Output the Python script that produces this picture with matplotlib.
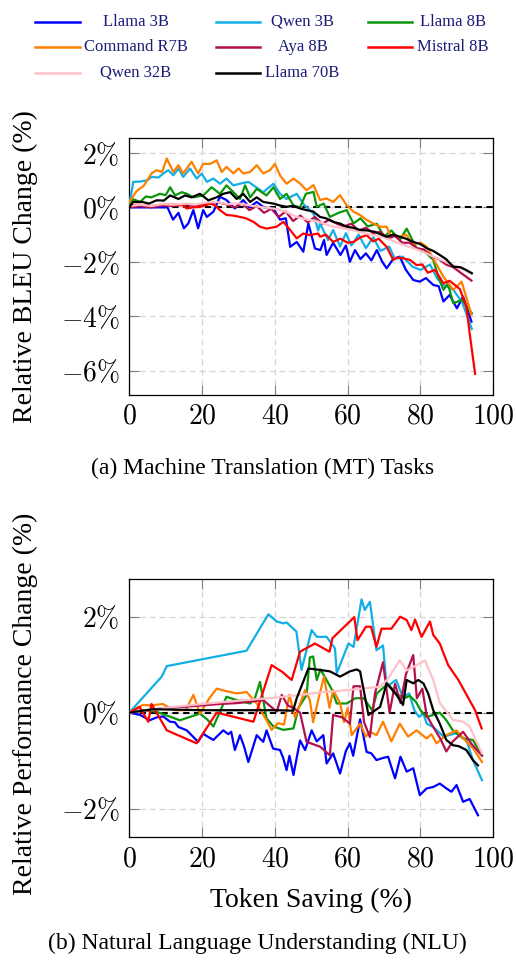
import numpy as np
import matplotlib
matplotlib.use("Agg")
import matplotlib.pyplot as plt
from matplotlib.lines import Line2D
from matplotlib.ticker import FuncFormatter

plt.rcParams['font.family'] = 'serif'
plt.rcParams['font.serif'] = ['Liberation Serif', 'DejaVu Serif']
plt.rcParams['mathtext.fontset'] = 'cm'

# series names and colours (legend order)
models = ['Llama 3B', 'Qwen 3B', 'Llama 8B', 'Command R7B', 'Aya 8B', 'Mistral 8B', 'Qwen 32B', 'Llama 70B']
colors = ['#0000ff', '#14aee6', '#0a960a', '#ff8000', '#b4104e', '#ff0000', '#ffc0c8', '#000000']

# (a) MT: token saving (%) vs relative BLEU change (%)
mt_llama3b = [(0, 0), (4, 0), (8, 0), (10.5, 0), (12, -0.45), (13.5, -0.2), (15, -0.77), (16.2, -0.59), (17.6, -0.1),
              (18.9, -0.77), (20.3, -0.1), (21.3, -0.35), (23.1, -0.16), (24.9, 0.39), (26.7, 0.27), (29, -0.04),
              (31.3, 0.27), (33, 0.0), (35, 0.2), (37, 0.0), (39.6, -0.04), (41.4, -0.45), (43, -0.4), (44.2, -1.45),
              (46, -1.27), (47.8, -1.63), (49.2, -0.59), (51, -1.51), (52.5, -1.57), (53.5, -1.2), (54.2, -1.75),
              (56, -1.3), (58, -1.75), (59.5, -1.4), (60.6, -2.0), (62, -1.57), (63.5, -1.9), (65, -1.69),
              (66.5, -1.95), (68, -1.57), (69.5, -2.0), (70.7, -2.24), (72.5, -1.9), (74.3, -1.81), (76, -2.3),
              (78, -2.67), (79.8, -2.73), (81.5, -2.6), (83.5, -2.85), (85, -2.9), (86.3, -3.46), (88, -3.22),
              (90, -3.71), (91.7, -3.28), (94, -4.2)]
mt_qwen3b = [(0, 0.1), (1.1, 0.94), (3, 0.95), (5, 1.0), (6.1, 1.12), (8, 1.1), (9.3, 1.24), (10.7, 1.37), (12.1, 1.18),
             (13.5, 1.43), (14.8, 1.12), (16.7, 1.43), (18.5, 1.06), (19.9, 1.24), (21.3, 0.94), (23.1, 1.06),
             (24.9, 0.87), (26.7, 1.06), (28.6, 0.81), (30.4, 0.87), (32.7, 0.94), (34.1, 0.81), (36.8, 0.56),
             (39.6, 0.87), (41.4, 0.5), (43.2, 0.31), (46, 0.5), (47.8, 0.13), (50.6, -0.23), (51.9, -0.85),
             (52.4, -0.59), (54.6, -1.2), (56, -0.83), (57.9, -1.44), (59.5, -0.95), (61, -1.4), (63, -1.0),
             (65, -1.5), (67, -1.1), (69, -1.6), (71.4, -1.44), (73, -1.9), (75.1, -1.81), (77.8, -2.18), (80, -2.3),
             (82.6, -2.1), (84.5, -2.6), (86.3, -2.85), (89, -3.03), (91.5, -3.5), (94.1, -4.47)]
mt_llama8b = [(0, 0.1), (1.1, 0.3), (3, 0.2), (4.5, 0.4), (6.1, 0.37), (8.4, 0.5), (10, 0.45), (11.2, 0.74), (12.6, 0.44),
              (14.4, 0.56), (15.8, 0.5), (17.6, 0.37), (20.3, 0.44), (22.6, 0.74), (24.9, 0.5), (26.7, 0.81),
              (28.6, 0.56), (30.4, 0.31), (31.8, 0.81), (33.2, 0.37), (35, 0.68), (37.7, 0.44), (39.6, 0.74),
              (41.4, 0.31), (43.2, 0.5), (45.1, 0.07), (46.9, 0.0), (48.5, 0.5), (50.6, 0.57), (51.5, 0.02),
              (53.4, 0.14), (55.1, -0.35), (57.5, -0.2), (59.7, -0.1), (61.6, -0.59), (63.5, -0.4), (65.5, -0.7),
              (68, -0.6), (70, -1.08), (72, -0.85), (74.3, -1.2), (76.2, -0.78), (78.9, -1.5), (81.7, -1.69),
              (83.5, -1.93), (85, -2.6), (86.3, -3.03), (87.5, -2.8), (89, -3.52), (91.5, -3.4), (94.1, -3.89)]
mt_command = [(0, 0.2), (2, 0.6), (4, 0.8), (6.1, 1.25), (7.5, 1.37), (9, 1.3), (10.3, 1.8), (12.1, 1.3), (13.5, 1.55),
              (14.8, 1.25), (17.1, 1.68), (18.9, 1.25), (20.3, 1.6), (22.2, 1.6), (24, 1.73), (25.4, 1.3), (26.7, 1.49),
              (28.6, 1.25), (30, 1.43), (31.3, 1.25), (33.2, 1.3), (35, 1.55), (36.8, 1.25), (38.7, 1.37), (40, 1.6),
              (41.4, 1.18), (43.2, 0.87), (45.1, 1.06), (46.9, 0.88), (48.7, 0.63), (50.6, 0.82), (52.4, 0.27),
              (54.2, 0.33), (56, 0.2), (57.9, 0.45), (59.7, 0.08), (61.6, -0.16), (63.4, -0.28), (65.2, -0.46),
              (67, -0.59), (68.9, -0.71), (70.7, -0.71), (71.6, -1.0), (74, -1.1), (76, -1.0), (78, -1.35), (80, -1.3),
              (81.7, -1.45), (84, -2.0), (86.3, -2.55), (89, -3.03), (91.3, -2.73), (94, -3.95)]
mt_aya8b = [(0, 0), (3, 0.05), (6, 0.0), (9, 0.08), (12, 0.05), (15, 0.1), (18, 0.05), (21, 0.1), (24, 0.2), (27, 0.1),
            (29, 0.0), (31, 0.15), (33, -0.1), (35, 0.05), (37, -0.2), (39, -0.05), (41, -0.35), (43, -0.15),
            (45, -0.5), (47, -0.3), (49, -0.55), (51, -0.35), (53, -0.6), (55, -0.45), (57, -0.6), (59, -0.7),
            (61, -0.6), (63, -0.85), (65, -0.75), (67, -0.95), (69, -0.9), (71, -1.15), (73, -1.05), (75, -1.3),
            (77, -1.3), (79, -1.5), (81, -1.55), (83, -1.8), (85, -1.9), (87, -2.1), (89, -2.2), (91, -2.4),
            (94, -2.69)]
mt_mistral = [(0, 0.07), (2.5, 0.1), (6, 0.05), (9, 0.1), (11.2, 0.1), (14.4, 0.1), (15.8, -0.04), (17.5, 0.0),
              (19.4, 0.02), (22.2, 0.14), (23.5, 0.08), (24.9, -0.1), (26.7, -0.28), (28.5, -0.3), (30.4, -0.35),
              (32, -0.4), (34.1, -0.53), (35.9, -0.71), (37.7, -0.78), (40.5, -0.71), (42.3, -0.53), (44.2, -0.83),
              (46, -1.14), (47.8, -0.96), (49.6, -1.02), (51.9, -0.96), (52.4, -1.08), (54, -1.0), (56, -1.27),
              (58, -1.15), (60, -1.3), (61.6, -1.27), (63.5, -1.1), (65.2, -1.02), (67, -1.25), (68.5, -1.15),
              (70.7, -1.45), (72.5, -1.93), (73.5, -1.85), (75.1, -1.87), (77.1, -1.93), (78.9, -2.12), (80.5, -2.1),
              (82, -2.4), (84, -2.3), (86.3, -2.79), (88, -2.7), (90.8, -3.0), (92.6, -3.65), (93.5, -4.62),
              (95, -6.12)]
mt_qwen32b = [(0, 0.05), (3, 0.1), (6, 0.05), (9, 0.12), (12, 0.1), (15.8, 0.14), (18, 0.1), (21, 0.18), (24, 0.2),
              (27, 0.12), (30, 0.15), (34, 0.05), (37, 0.0), (40, -0.05), (43, -0.16), (46, -0.35), (49, -0.45),
              (52, -0.53), (56, -0.71), (60, -0.8), (65, -0.96), (70, -1.1), (74.3, -1.33), (78, -1.5), (81, -1.65),
              (83.5, -1.81), (86, -1.95), (89.9, -2.18), (92, -2.3), (94, -2.45)]
mt_llama70b = [(0, 0.0), (1.1, 0.2), (3.6, 0.2), (5.4, 0.14), (7.5, 0.26), (9.5, 0.25), (11.2, 0.44), (13.5, 0.31),
               (15.3, 0.44), (17.1, 0.37), (19.4, 0.5), (21.7, 0.26), (24, 0.37), (25.8, 0.5), (27.7, 0.56),
               (29.5, 0.31), (31.3, 0.5), (33.2, 0.2), (35, 0.37), (36.8, 0.2), (39.6, 0.14), (41.4, 0.07),
               (43.2, 0.02), (45, 0.06), (46.9, -0.04), (48.7, -0.1), (50.5, -0.15), (52.4, -0.35), (54, -0.4),
               (56, -0.53), (58, -0.6), (59.7, -0.71), (61.5, -0.75), (63.4, -0.83), (65.5, -0.85), (67.5, -0.9),
               (70.7, -1.08), (72.5, -1.0), (74.3, -1.08), (76, -1.15), (78, -1.27), (80, -1.35), (81.7, -1.5),
               (83.5, -1.6), (85.3, -1.75), (87, -1.9), (89, -2.18), (91, -2.2), (92.5, -2.3), (94.1, -2.42)]

# (b) NLU: token saving (%) vs relative performance change (%)
nlu_llama3b = [(0, 0), (3, -0.05), (5.6, -0.16), (7.5, -0.1), (9.3, -0.08), (11.2, -0.19), (12.5, -0.2), (13.5, -0.3),
               (15.8, -0.37), (18.9, -0.61), (20.3, -0.44), (21.5, -0.5), (23.1, -0.57), (25.8, -0.37), (27.2, -0.45),
               (28, -0.4), (29, -0.78), (30.4, -0.47), (31.5, -0.7), (32.7, -1.03), (35, -0.47), (36, -0.55),
               (36.8, -0.61), (37.7, -0.37), (39.5, -0.75), (41.4, -0.78), (42.3, -0.95), (43.2, -1.2), (44, -0.9),
               (45.1, -1.3), (46.9, -0.58), (48.3, -0.78), (50.1, -0.37), (51.5, -0.6), (53.3, -0.47), (54.2, -1.06),
               (56, -0.85), (57.9, -1.27), (59.5, -0.8), (60.6, -0.64), (61.5, -0.9), (63.4, -0.14), (65.2, -0.82),
               (66.5, -0.85), (67.9, -0.99), (69.5, -0.95), (71.1, -0.92), (73, -1.37), (74.5, -0.92), (76.2, -1.23),
               (78, -1.16), (79.8, -1.72), (81.7, -1.58), (83.5, -1.55), (85.3, -1.48), (87.1, -1.58), (88.5, -1.65),
               (89.9, -1.51), (91.7, -1.86), (93.5, -1.8), (95.8, -2.14)]
nlu_qwen3b = [(0, 0), (8.9, 0.75), (10.3, 0.97), (32.2, 1.29), (38.2, 2.05), (40.5, 1.9), (42.3, 1.86), (43.2, 1.88),
              (45.9, 1.69), (47.3, 0.89), (50.1, 1.72), (51.5, 1.58), (54.2, 1.58), (56.5, 1.34), (57, 0.82),
              (60.2, 1.44), (61.6, 1.37), (63.8, 2.36), (64.7, 2.14), (66.1, 2.31), (67.9, 1.3), (69.7, 1.4),
              (70.7, 0.54), (73.3, 0.68), (75.1, 0.33), (76.9, 0.4), (78.3, 0.05), (79.6, -0.09), (80.8, -0.02),
              (81.7, -0.23), (83.5, -0.3), (86.3, -0.5), (89.9, -0.43), (92.6, -0.57), (94.4, -0.99), (96.9, -1.41)]
nlu_llama8b = [(0, 0), (3.5, 0.05), (7.4, 0.02), (13.9, -0.16), (19.4, -0.02), (21.5, -0.15), (23.1, -0.29),
               (26.7, 0.33), (29.5, 0.26), (33.2, 0.19), (34.5, 0.3), (35.9, 0.64), (37.7, -0.12), (39.6, -0.29),
               (42.3, -0.36), (45.1, -0.33), (46.5, 0.1), (48.7, 0.37), (49.6, 1.15), (50.5, 1.17), (51.5, 0.68),
               (52.5, 0.9), (54.2, 0.68), (55.5, 0.5), (57, 0.19), (59.7, 0.19), (62.1, 0.3), (64.4, 0.3),
               (66.7, 0.05), (68, 0.4), (71, 0.6), (73.7, 0.37), (75.6, 0.3), (77, 0.35), (78.7, 0.23), (80, 0.05),
               (81.7, -0.09), (83.5, -0.05), (85.3, 0.0), (87.1, -0.16), (88.9, -0.37), (91.7, -0.54), (94.4, -0.57),
               (96.9, -0.89)]
nlu_command = [(0, 0), (3.7, 0.16), (6, 0.15), (9.2, 0.18), (11, 0.1), (12.8, 0.05), (15.5, 0.05), (17.6, 0.37),
               (19.4, -0.02), (22, 0.3), (24, 0.5), (26.5, 0.45), (29.5, 0.4), (32.2, 0.43), (35, 0.19), (37.7, -0.16),
               (39.1, -0.36), (40.9, -0.22), (42.5, -0.25), (44, 0.37), (45.5, -0.1), (47, 0.2), (48.3, 0.47),
               (49.6, 0.26), (50.5, -0.2), (52, 0.3), (53.5, 0.75), (55, 0.1), (56, 0.47), (57.9, 0.2), (59, -0.2),
               (60, 0.1), (61.1, -0.47), (63.4, -0.23), (65, -0.5), (66.1, -0.4), (67.9, -0.47), (69.7, -0.19),
               (72, -0.6), (74.3, -0.23), (76.6, -0.5), (78.9, -0.37), (81.7, -0.54), (83, -0.45), (84.4, -0.64),
               (87.1, -0.47), (89.9, -0.37), (92.5, -0.6), (94.5, -0.75), (96.9, -1.03)]
nlu_aya8b = [(0, 0), (5, 0.05), (10, 0.1), (15, 0.12), (20, 0.15), (25, 0.18), (30, 0.2), (36.8, 0.26), (40.5, 0.02),
             (41.9, 0.37), (43.5, 0.15), (45, 0.1), (46.9, 0.0), (48.7, -0.61), (52.4, -0.71), (55.1, -0.89),
             (56, -0.05), (58.5, -0.1), (60.6, -0.23), (61.6, 0.55), (63.4, 0.55), (64.5, -0.2), (66.1, -0.51),
             (67.5, 0.4), (69.7, 1.05), (71.5, 0.0), (73, 0.6), (74.5, 0.2), (76, 0.8), (78, 1.2), (79, 0.3),
             (80.5, 0.5), (81.7, -0.06), (83.5, -0.3), (85.5, -0.55), (87.1, -0.81), (88.9, -0.6), (91.7, -0.4),
             (94, -0.65), (96.9, -0.9)]
nlu_mistral = [(0, 0), (2.8, 0.12), (5.2, -0.19), (6.1, 0.18), (10.3, -0.37), (18.5, -0.64), (24, 0.0), (34.1, -0.19),
               (39.1, 0.99), (42, 0.85), (44.6, 0.68), (46.9, 1.27), (51, 1.44), (55, 1.27), (55.8, 1.55), (61.8, 1.99),
               (62.7, 1.51), (65, 1.79), (66.4, 1.79), (67.9, 1.37), (69.3, 1.75), (72, 1.75), (74.4, 2.0),
               (76.2, 1.93), (77.5, 1.72), (78.5, 1.94), (80.3, 1.58), (82.6, 1.9), (83.5, 1.62), (85.3, 1.44),
               (87.6, 0.99), (90.4, 0.68), (95, 0.05), (96.8, -0.33)]
nlu_qwen32b = [(0, 0), (10, 0.1), (20, 0.18), (30, 0.25), (40, 0.31), (46.9, 0.37), (52.4, 0.42), (60, 0.47),
               (68.9, 0.54), (71, 0.7), (74.3, 1.09), (76.2, 0.88), (78, 0.95), (81.2, 1.09), (83.5, 0.68), (85.3, 0.2),
               (88.9, -0.15), (91.7, -0.19), (93.5, -0.29), (96.9, -0.85)]
nlu_llama70b = [(0, 0), (6.5, 0.07), (20, 0.05), (30, 0.05), (40, 0.05), (45, 0.04), (46, 0.3), (49.2, 0.92),
                (52.4, 0.89), (55.1, 0.86), (57.9, 0.75), (60.6, 0.86), (62.5, 0.9), (63.4, 0.86), (65.7, -0.05),
                (68.9, 0.12), (70.7, 0.61), (73.4, 0.37), (75.2, 0.16), (76.2, 0.68), (78, 0.61), (79.4, 0.68),
                (80.8, 0.61), (82.1, 0.4), (83.5, 0.05), (85.3, -0.23), (87.1, -0.57), (88.9, -0.68), (90.5, -0.7),
                (92.6, -0.78), (94.4, -0.99), (95.8, -1.1)]

mt_series = [mt_llama3b, mt_qwen3b, mt_llama8b, mt_command, mt_aya8b, mt_mistral, mt_qwen32b, mt_llama70b]
nlu_series = [nlu_llama3b, nlu_qwen3b, nlu_llama8b, nlu_command, nlu_aya8b, nlu_mistral, nlu_qwen32b, nlu_llama70b]

x_ticks = [0, 20, 40, 60, 80, 100]
mt_yticks = [-6, -4, -2, 0, 2]
nlu_yticks = [-2, 0, 2]

fig = plt.figure(figsize=(5.16, 9.6), dpi=100)
ax1 = fig.add_axes([0.2506, 0.5885, 0.7054, 0.2677])
ax2 = fig.add_axes([0.2506, 0.1278, 0.7054, 0.2688])

pct = FuncFormatter(lambda v, p: r'$%d\%%$' % v if v >= 0 else r'$-%d\%%$' % (-v))
num = FuncFormatter(lambda v, p: r'$%d$' % v)


def setup(ax, series, yticks, ylim):
    ax.plot([0, 100], [0, 0], color='black', lw=1.5, ls=(0, (3, 2.2)), zorder=2)
    for data, c in zip(series, colors):
        arr = np.array(data)
        ax.plot(arr[:, 0], arr[:, 1], color=c, lw=1.6, zorder=3)
    ax.set_xlim(0, 100)
    ax.set_ylim(*ylim)
    ax.set_xticks(x_ticks)
    ax.set_yticks(yticks)
    ax.xaxis.set_major_formatter(num)
    ax.yaxis.set_major_formatter(pct)
    ax.grid(True, color='#d6d6d6', ls=(0, (5, 3)), lw=0.9)
    ax.set_axisbelow(True)
    ax.tick_params(direction='in', length=7, width=0.8, color='#808080', top=True, right=True,
                   labelsize=20, pad=7)
    for s in ax.spines.values():
        s.set_linewidth(0.9)


setup(ax1, mt_series, mt_yticks, (-6.9, 2.55))
setup(ax2, nlu_series, nlu_yticks, (-2.6, 2.78))

ax1.set_ylabel('Relative BLEU Change (%)', fontsize=20)
ax1.yaxis.set_label_coords(-0.25, 0.5)
ax2.set_ylabel('Relative Performance Change (%)', fontsize=20)
ax2.yaxis.set_label_coords(-0.25, 0.517)
ax2.set_xlabel('Token Saving (%)', fontsize=20)
ax2.xaxis.set_label_coords(0.5, -0.196)

fig.text(263 / 516, 1 - 468 / 960, '(a) Machine Translation (MT) Tasks', fontsize=17, ha='center', va='center')
fig.text(257 / 516, 1 - 943 / 960, '(b) Natural Language Understanding (NLU)', fontsize=17, ha='center', va='center')

# legend drawn by hand, text centred in each column like pgfplots
col_line = [(35, 80), (216, 260), (368, 412)]
col_text = [136, 302.5, 453]
row_y = [22, 46.7, 72.7]
for i, (name, c) in enumerate(zip(models, colors)):
    r, k = divmod(i, 3)
    y = 1 - row_y[r] / 960
    x0, x1 = col_line[k]
    fig.add_artist(Line2D([x0 / 516, x1 / 516], [y, y], color=c, lw=1.8, transform=fig.transFigure))
    fig.text(col_text[k] / 516, y, name, fontsize=12, color='#1c1c78', ha='center', va='center')

fig.savefig('out.png', dpi=100)
